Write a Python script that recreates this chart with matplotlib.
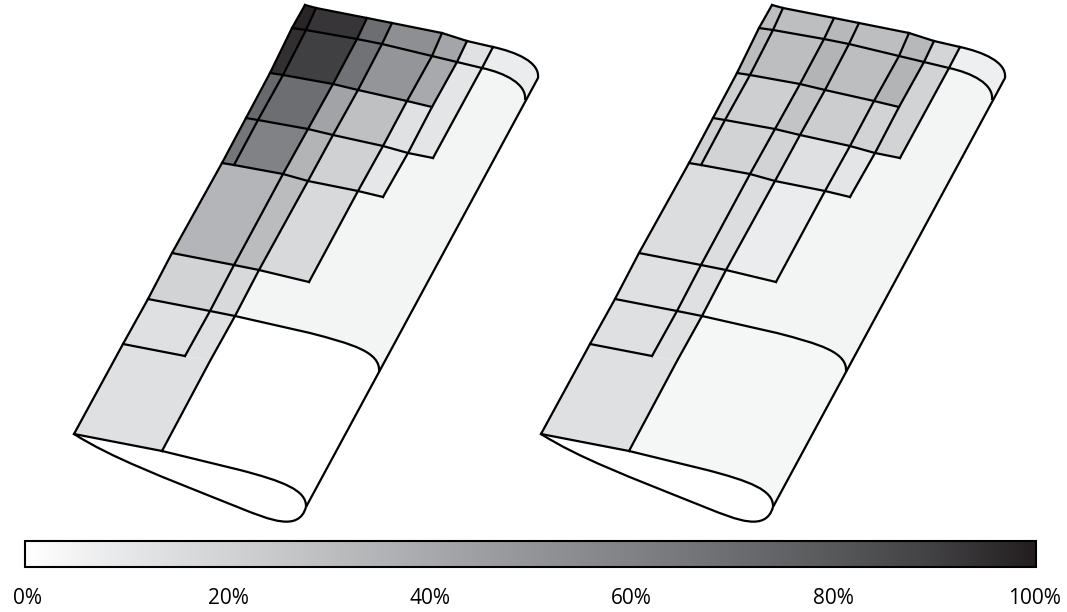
import numpy as np
import matplotlib
matplotlib.use("Agg")
import matplotlib.pyplot as plt
from matplotlib.colors import LinearSegmentedColormap
from matplotlib.path import Path
from matplotlib.patches import PathPatch, Rectangle

plt.rcParams['font.family'] = ['Open Sans', 'DejaVu Sans']

nan = np.nan

# grey scale of the colour bar, one stop every 10%
scale_stops = ['#ffffff', '#e6e7e8', '#d1d3d4', '#bcbec0', '#a7a9ac', '#939598',
               '#808285', '#6d6e71', '#58595b', '#414042', '#231f20']
tick_values = [0, 20, 40, 60, 80, 100]
tick_labels = ['0%', '20%', '40%', '60%', '80%', '100%']

# grid nodes of the wing, one row per chord line, columns a..h along the chord
node_x = [
    [305, 316, 367, 392, 442, 467, 493, nan],
    [292, 306, 357, 382, 432, 457, 482, nan],
    [270, 283, 333, 358, 407, 432, nan, nan],
    [246, 258, 308, 333, 383, 408, 433, nan],
    [222, 234, 283, 308, 358, 383, nan, nan],
    [172, nan, 234, 259, 309, nan, nan, nan],
    [148, nan, 210, 235, nan, nan, nan, 379],
    [123, nan, 185, 210, nan, nan, nan, nan],
    [74, nan, nan, 162, nan, nan, nan, 306],
]
node_y = [
    [5, 8, 18, 23, 33, 41, 47, nan],
    [28, 30, 39, 44, 56, 62, 68, nan],
    [73, 75, 84, 90, 101, 107, nan, nan],
    [118, 120, 129, 135, 146, 153, 158, nan],
    [163, 165, 174, 181, 191, 197, nan, nan],
    [253, nan, 265, 270, 282, nan, nan, nan],
    [299, nan, 311, 316, nan, nan, nan, 372],
    [344, nan, 356, 361, nan, nan, nan, nan],
    [434, nan, nan, 451, nan, nan, nan, 507],
]
# how many nodes of each chord line get the straight line through them
chord_nodes = [7, 7, 6, 7, 6, 4, 3, 2, 2]
# rows each span line passes
span_rows = [[0, 1, 2, 3, 4, 5, 6, 7, 8], [0, 1, 2, 3, 4], [0, 1, 2, 3, 4, 5, 6, 7],
             [0, 1, 2, 3, 4, 5, 6, 7, 8], [0, 1, 2, 3, 4, 5], [0, 1, 2, 3, 4], [0, 1, 3]]

# shaded cells: top row, bottom row, left col, right col
cell_top = [0, 0, 0, 0, 0, 0,
            1, 1, 1, 1, 1, 1,
            2, 2, 2, 2, 2,
            3, 3, 3, 3, 3,
            4, 4, 4,
            5, 5,
            6, 6,
            7]
cell_bottom = [1, 1, 1, 1, 1, 1,
               2, 2, 2, 2, 2, 3,
               3, 3, 3, 3, 3,
               4, 4, 4, 4, 4,
               5, 5, 5,
               6, 6,
               7, 7,
               8]
cell_left = [0, 1, 2, 3, 4, 5,
             0, 1, 2, 3, 4, 5,
             0, 1, 2, 3, 4,
             0, 1, 2, 3, 4,
             0, 2, 3,
             0, 2,
             0, 2,
             0]
cell_right = [1, 2, 3, 4, 5, 6,
              1, 2, 3, 4, 5, 6,
              1, 2, 3, 4, 5,
              1, 2, 3, 4, 5,
              2, 3, 4,
              2, 3,
              2, 3,
              3]
values_wing1 = [98, 93, 70, 53, 42, 13,
                95, 90, 68, 50, 40, 11,
                72, 70, 43, 29, 13,
                66, 60, 35, 21, 10,
                34, 31, 17,
                20, 17,
                14, 14,
                14]
values_wing2 = [30, 30, 33, 30, 33, 19,
                31, 30, 35, 30, 35, 20,
                22, 22, 27, 23, 20,
                21, 20, 20, 14, 11,
                15, 15, 8,
                14, 14,
                14, 14,
                14]
# plain regions: tip, mid wing, root part
tip_value = [8, 7]
mid_value = [5, 5]
root_value = [0, 4]

wing_offset = [0, 467]

grey = LinearSegmentedColormap.from_list('grey_scale', scale_stops)
LW = 1.6


def node(row, col, dx):
    return (node_x[row][col] + dx, node_y[row][col])


def shape(parts, dx, closed=False):
    """parts: start point then tuples of 1 (line) or 3 (bezier) points"""
    verts = [(parts[0][0] + dx, parts[0][1])]
    codes = [Path.MOVETO]
    for seg in parts[1:]:
        for p in seg:
            verts.append((p[0] + dx, p[1]))
        codes += [Path.LINETO] if len(seg) == 1 else [Path.CURVE4] * 3
    if closed:
        verts.append(verts[0])
        codes.append(Path.CLOSEPOLY)
    return Path(verts, codes)


fig = plt.figure(figsize=(10.67, 6.12), dpi=100)
ax = fig.add_axes([0, 0, 1, 1])
ax.axis('off')

# curved bits of the outline
top_curve = [(493, 47), ((516, 52), (540, 62), (538, 78)), ((306, 507),)]
inner_curve = [(482, 68), ((505, 73), (527, 84), (525, 100))]
l6_curve = [(235, 316), ((310, 333),), ((352, 344), (381, 352), (379, 372))]
root_upper = [(162, 451), ((240, 470),), ((282, 481), (307, 490), (306, 507))]
root_lower = [(74, 434), ((112, 458), (160, 476), (240, 508)), ((270, 520), (299, 532), (306, 507))]

for w, dx in enumerate(wing_offset):
    values = values_wing1 if w == 0 else values_wing2

    # mid wing background
    mid = shape([(482, 68), ((505, 73), (527, 84), (525, 100)), ((379, 372),),
                 ((381, 352), (352, 344), (310, 333)), ((235, 316),), ((292, 28),)], dx, True)
    ax.add_patch(PathPatch(mid, fc=grey(mid_value[w] / 100), ec='none', zorder=1))

    # root part background
    root = shape(l6_curve + [((306, 507),), ((307, 490), (282, 481), (240, 470)), ((162, 451),)], dx, True)
    ax.add_patch(PathPatch(root, fc=grey(root_value[w] / 100), ec='none', zorder=1))

    # wing tip
    tip = shape([(493, 47), ((516, 52), (540, 62), (538, 78)), ((525, 100),),
                 ((527, 84), (505, 73), (482, 68))], dx, True)
    ax.add_patch(PathPatch(tip, fc=grey(tip_value[w] / 100), ec='none', zorder=1))

    # grid cells
    for t, b, l, r, v in zip(cell_top, cell_bottom, cell_left, cell_right, values):
        corners = [node(t, l, dx), node(t, r, dx), node(b, r, dx), node(b, l, dx)]
        ax.fill(*zip(*corners), fc=grey(v / 100), ec='none', zorder=2)

    # chord lines
    for row, count in enumerate(chord_nodes):
        pts = [(x + dx, y) for x, y in zip(node_x[row], node_y[row]) if not np.isnan(x)][:count]
        ax.plot(*zip(*pts), color='black', lw=LW, zorder=3)

    # span lines
    for col, rows in enumerate(span_rows):
        pts = [node(r, col, dx) for r in rows if not np.isnan(node_x[r][col])]
        ax.plot(*zip(*pts), color='black', lw=LW, zorder=3)

    # outline curves
    for parts in [top_curve, inner_curve, l6_curve, root_upper, root_lower]:
        ax.add_patch(PathPatch(shape(parts, dx), fc='none', ec='black', lw=LW, zorder=3))

# colour bar
gradient = np.linspace(0, 1, 512).reshape(1, -1)
ax.imshow(gradient, cmap=grey, extent=(25, 1036, 567, 541), aspect='auto', zorder=2)
ax.add_patch(Rectangle((25, 541), 1011, 26, fc='none', ec='black', lw=1.5, zorder=3))
ax.set_xlim(0, 1067)
ax.set_ylim(612, 0)

for v, lab in zip(tick_values, tick_labels):
    ax.text(27 + v * 10.08, 598, lab, ha='center', va='center', fontsize=15)

fig.savefig('out.png', dpi=100)
